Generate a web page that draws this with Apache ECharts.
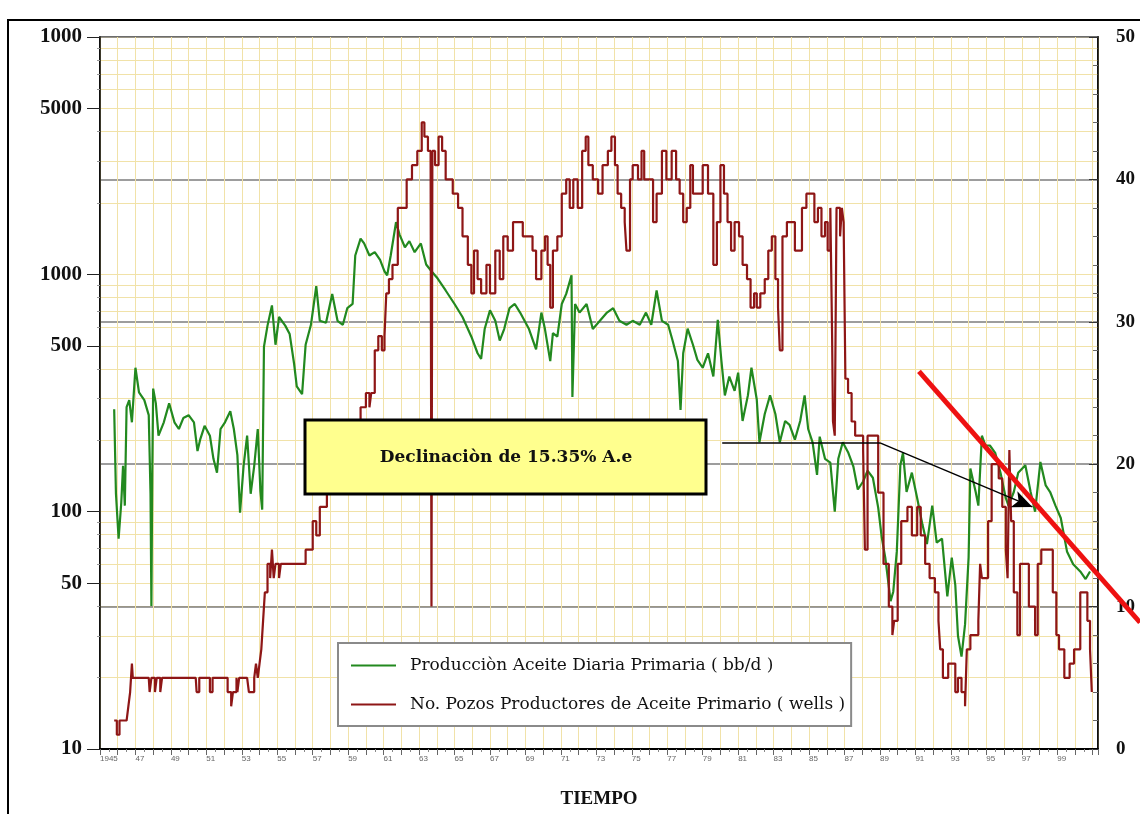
<!DOCTYPE html>
<html>
<head>
<meta charset="utf-8">
<title>Producción primaria</title>
<script src="https://cdn.jsdelivr.net/npm/echarts@6/dist/echarts.min.js"></script>
<style>
  html, body { margin: 0; padding: 0; background: #fff; }
  #chart { width: 1140px; height: 814px; }
</style>
</head>
<body>
<div id="chart"></div>
<script>
/* -------------------------------------------  Datos  ------------------------------------------- */
// Producción de aceite (bb/d), eje izquierdo logarítmico
const prodYears = [
  1945.8, 1945.9, 1946.05, 1946.2, 1946.3, 1946.4, 1946.5, 1946.65, 1946.8, 1947.0,
  1947.2, 1947.5, 1947.75, 1947.85, 1947.9, 1947.95, 1948.0, 1948.15, 1948.3, 1948.6,
  1948.9, 1949.2, 1949.45, 1949.7, 1950.0, 1950.3, 1950.5, 1950.65, 1950.9, 1951.2,
  1951.4, 1951.6, 1951.8, 1952.05, 1952.35, 1952.55, 1952.75, 1952.9, 1953.1, 1953.3,
  1953.5, 1953.7, 1953.9, 1954.05, 1954.15, 1954.25, 1954.45, 1954.7, 1954.9, 1955.1,
  1955.45, 1955.7, 1955.95, 1956.1, 1956.4, 1956.6, 1956.9, 1957.2, 1957.4, 1957.75,
  1958.1, 1958.4, 1958.7, 1958.95, 1959.25, 1959.4, 1959.7, 1959.9, 1960.2, 1960.5,
  1960.8, 1961.05, 1961.2, 1961.4, 1961.7, 1961.9, 1962.2, 1962.45, 1962.75, 1963.1,
  1963.4, 1963.7, 1964.05, 1964.5, 1965.0, 1965.45, 1965.95, 1966.3, 1966.5, 1966.7,
  1967.0, 1967.3, 1967.55, 1967.8, 1968.1, 1968.4, 1968.7, 1968.95, 1969.2, 1969.6,
  1969.9, 1970.1, 1970.4, 1970.55, 1970.8, 1971.05, 1971.3, 1971.6, 1971.65, 1971.8,
  1972.05, 1972.45, 1972.8, 1973.2, 1973.6, 1973.95, 1974.3, 1974.7, 1975.05, 1975.45,
  1975.8, 1976.1, 1976.4, 1976.7, 1977.05, 1977.3, 1977.6, 1977.75, 1977.9, 1978.15,
  1978.45, 1978.7, 1979.0, 1979.3, 1979.6, 1979.85, 1980.05, 1980.25, 1980.5, 1980.8,
  1981.0, 1981.25, 1981.55, 1981.75, 1982.05, 1982.2, 1982.5, 1982.8, 1983.1, 1983.35,
  1983.65, 1983.9, 1984.2, 1984.5, 1984.75, 1984.95, 1985.2, 1985.45, 1985.6, 1985.9,
  1986.2, 1986.45, 1986.65, 1986.9, 1987.2, 1987.5, 1987.75, 1988.05, 1988.3, 1988.6,
  1988.9, 1989.1, 1989.3, 1989.6, 1989.75, 1989.95, 1990.15, 1990.3, 1990.5, 1990.8,
  1991.1, 1991.4, 1991.65, 1991.95, 1992.2, 1992.5, 1992.8, 1993.05, 1993.25, 1993.4,
  1993.6, 1993.8, 1994.0, 1994.1, 1994.4, 1994.55, 1994.75, 1994.95, 1995.2, 1995.5,
  1995.8, 1996.1, 1996.25, 1996.55, 1996.8, 1997.2, 1997.5, 1997.75, 1998.05, 1998.35,
  1998.6, 1998.9, 1999.2, 1999.55, 1999.9, 2000.3, 2000.6, 2000.85
];
const prodValues = [
  270, 119, 77, 109, 156, 106, 276, 295, 238, 404,
  318, 295, 255, 119, 40, 150, 330, 286, 209, 238,
  286, 238, 223, 248, 255, 238, 180, 201, 230, 209,
  167, 146, 223, 238, 265, 223, 173, 99, 156, 209,
  119, 156, 223, 122, 102, 496, 608, 740, 505, 661,
  608, 560, 420, 337, 313, 505, 613, 891, 637, 625,
  827, 637, 613, 720, 750, 1200, 1415, 1350, 1200, 1240,
  1150, 1030, 990, 1200, 1660, 1470, 1300, 1380, 1240, 1350,
  1100, 1030, 960, 855, 750, 661, 546, 465, 440, 588,
  705, 637, 526, 588, 720, 750, 690, 637, 588, 483,
  690, 588, 431, 565, 546, 750, 827, 990, 304, 750,
  690, 750, 588, 637, 690, 720, 637, 613, 637, 613,
  690, 613, 855, 637, 613, 526, 431, 268, 465, 590,
  505, 436, 404, 465, 371, 643, 436, 309, 371, 323,
  385, 241, 309, 404, 297, 196, 258, 309, 258, 196,
  241, 232, 201, 241, 309, 223, 196, 143, 207, 167,
  161, 100, 167, 196, 178, 155, 124, 134, 149, 139,
  104, 78, 64, 42, 46, 68, 157, 177, 121, 146,
  114, 88, 73, 106, 74, 77, 44, 64, 49, 30,
  24.5, 33.5, 64, 152, 121, 106, 209, 190, 190, 177,
  146, 114, 106, 121, 146, 157, 121, 100, 162, 129,
  121, 106, 94, 68, 60, 56, 52, 56
];

// Número de pozos productores, eje derecho
const wellYears = [
  1945.8, 1945.95, 1946.1, 1946.5, 1946.6, 1946.7, 1946.8, 1946.85, 1947.75, 1947.8,
  1947.9, 1948.1, 1948.2, 1948.4, 1948.5, 1950.4, 1950.45, 1950.6, 1951.2, 1951.35,
  1952.2, 1952.4, 1952.5, 1952.7, 1952.75, 1952.85, 1953.3, 1953.4, 1953.7, 1953.8,
  1953.9, 1954.0, 1954.1, 1954.2, 1954.3, 1954.45, 1954.6, 1954.7, 1954.8, 1954.9,
  1955.1, 1955.2, 1956.4, 1956.6, 1957.0, 1957.2, 1957.4, 1957.8, 1958.0, 1958.3,
  1958.5, 1959.1, 1959.7, 1960.0, 1960.2, 1960.3, 1960.5, 1960.7, 1960.9, 1961.05,
  1961.15, 1961.3, 1961.5, 1961.8, 1962.3, 1962.6, 1962.9, 1963.15, 1963.3, 1963.5,
  1963.65, 1963.7, 1963.75, 1963.9, 1964.1, 1964.3, 1964.5, 1964.9, 1965.2, 1965.45,
  1965.75, 1965.95, 1966.1, 1966.3, 1966.5, 1966.8, 1967.0, 1967.3, 1967.55, 1967.75,
  1968.0, 1968.3, 1968.85, 1969.4, 1969.6, 1969.9, 1970.1, 1970.25, 1970.4, 1970.55,
  1970.8, 1971.05, 1971.3, 1971.5, 1971.7, 1971.95, 1972.2, 1972.4, 1972.55, 1972.8,
  1973.1, 1973.35, 1973.65, 1973.85, 1974.05, 1974.2, 1974.4, 1974.6, 1974.7, 1974.9,
  1975.05, 1975.35, 1975.55, 1975.7, 1976.2, 1976.4, 1976.7, 1976.95, 1977.25, 1977.5,
  1977.7, 1977.9, 1978.1, 1978.3, 1978.45, 1979.0, 1979.3, 1979.6, 1979.8, 1980.0,
  1980.2, 1980.4, 1980.6, 1980.8, 1981.05, 1981.25, 1981.5, 1981.7, 1981.9, 1982.05,
  1982.25, 1982.5, 1982.7, 1982.9, 1983.1, 1983.25, 1983.35, 1983.5, 1983.75, 1984.2,
  1984.6, 1984.85, 1985.3, 1985.5, 1985.7, 1985.9, 1986.05, 1986.2, 1986.3, 1986.35,
  1986.45, 1986.55, 1986.75, 1986.85, 1986.95, 1987.05, 1987.2, 1987.4, 1987.6, 1988.05,
  1988.15, 1988.3, 1988.9, 1989.2, 1989.5, 1989.7, 1989.8, 1990.0, 1990.2, 1990.55,
  1990.8, 1991.1, 1991.3, 1991.55, 1991.8, 1992.1, 1992.3, 1992.4, 1992.55, 1992.85,
  1993.25, 1993.4, 1993.6, 1993.8, 1993.9, 1994.1, 1994.55, 1994.65, 1994.75, 1995.1,
  1995.3, 1995.7, 1995.9, 1996.1, 1996.2, 1996.3, 1996.4, 1996.55, 1996.75, 1996.9,
  1997.4, 1997.75, 1997.9, 1998.1, 1998.75, 1998.95, 1999.1, 1999.4, 1999.7, 1999.95,
  2000.3, 2000.7, 2000.85, 2000.95
];
const wellValues = [
  2, 1, 2, 2, 3, 4, 6, 5, 5, 4,
  5, 4, 5, 4, 5, 5, 4, 5, 4, 5,
  4, 3, 4, 5, 4, 5, 5, 4, 5, 6,
  5, 6, 7, 9, 11, 13, 12, 14, 12, 13,
  12, 13, 13, 14, 16, 15, 17, 18, 19, 20,
  21, 23, 24, 25, 24, 25, 28, 29, 28, 29,
  32, 33, 34, 38, 40, 41, 42, 44, 43, 42,
  42, 10, 42, 41, 43, 42, 40, 39, 38, 36,
  34, 32, 35, 33, 32, 34, 32, 35, 33, 36,
  35, 37, 36, 35, 33, 35, 36, 34, 31, 35,
  36, 39, 40, 38, 40, 38, 42, 43, 41, 40,
  39, 41, 42, 43, 41, 39, 38, 37, 35, 40,
  41, 40, 42, 40, 37, 39, 42, 40, 42, 40,
  39, 37, 38, 41, 39, 41, 39, 34, 37, 41,
  39, 37, 35, 37, 36, 34, 33, 31, 32, 31,
  32, 33, 35, 36, 33, 31, 28, 36, 37, 35,
  38, 39, 37, 38, 36, 37, 35, 38, 29, 23,
  22, 38, 36, 38, 37, 26, 25, 23, 22, 21,
  14, 22, 18, 13, 10, 8, 9, 13, 16, 17,
  15, 17, 15, 13, 12, 11, 9, 7, 5, 6,
  4, 5, 4, 3, 7, 8, 9, 13, 12, 16,
  20, 19, 17, 14, 12, 21, 16, 11, 8, 13,
  10, 8, 13, 14, 11, 8, 7, 5, 6, 7,
  11, 9, 7, 4
];

// Recta de declinación (roja), en unidades del eje izquierdo
const trendYears = [1991.2, 2001.0];
const trendValues = [390, 57.5];

// Marcas del eje logarítmico
const logLabelValues = [10, 50, 100, 500, 1000, 5000, 10000];
const logGridValues = [
  10, 20, 30, 40, 50, 60, 70, 80, 90,
  100, 200, 300, 400, 500, 600, 700, 800, 900,
  1000, 2000, 3000, 4000, 5000, 6000, 7000, 8000, 9000, 10000
];

const PROD_NAME = 'Producciòn Aceite Diaria Primaria ( bb/d )';
const WELL_NAME = 'No. Pozos Productores de Aceite Primario ( wells )';

const SERIF = '"Liberation Serif", "Times New Roman", serif';
const WIDE_SERIF = '"DejaVu Serif", "Liberation Serif", serif';
const GRID_YELLOW = '#f1e2a8';

function zip(xs, ys) {
  return xs.map((x, i) => [x, ys[i]]);
}

/* -------------------------------------------  Gráfica  ------------------------------------------- */
const myChart = echarts.init(document.getElementById('chart'), null, { renderer: 'canvas' });

const option = {
  animation: false,
  backgroundColor: '#fff',
  grid: {
    left: 100, right: 42, top: 37, bottom: 58,
    show: true, borderColor: '#000', borderWidth: 1.5, backgroundColor: 'transparent'
  },
  legend: {
    data: [PROD_NAME, WELL_NAME],
    orient: 'vertical',
    left: 338, top: 643,
    padding: [14, 6, 13, 13],
    itemGap: 22,
    itemWidth: 45, itemHeight: 2,
    icon: 'rect',
    backgroundColor: '#fff',
    borderColor: '#8a8a8a', borderWidth: 2,
    textStyle: { fontFamily: WIDE_SERIF, fontSize: 17, color: '#111', padding: [0, 0, 0, 9] }
  },
  xAxis: {
    type: 'value',
    min: 1945, max: 2001.3, interval: 1,
    name: 'TIEMPO', nameLocation: 'middle', nameGap: 41,
    nameTextStyle: { fontFamily: SERIF, fontSize: 19, fontWeight: 'bold', color: '#111' },
    axisLine: { lineStyle: { color: '#000', width: 2 } },
    axisTick: { length: 6, lineStyle: { color: '#666' } },
    minorTick: { show: true, splitNumber: 2, length: 3, lineStyle: { color: '#888' } },
    axisLabel: {
      fontSize: 8, color: '#666', align: 'left', margin: 6,
      formatter: (v) => {
        if (!Number.isInteger(v) || v % 2 !== 1 || v > 1999) return '';
        return v === 1945 ? '1945' : String(v).slice(2);
      }
    },
    splitLine: { show: true, lineStyle: { color: GRID_YELLOW, width: 1 } }
  },
  yAxis: [
    {
      // eje log: líneas de rejilla amarillas en cada subdivisión
      type: 'log', logBase: 10, min: 10, max: 10000, position: 'left',
      axisLine: { show: true, lineStyle: { color: '#000', width: 1.5 } },
      axisTick: { show: true, customValues: logGridValues, length: 3, lineStyle: { color: '#999' } },
      axisLabel: { show: false },
      splitLine: { show: true, lineStyle: { color: GRID_YELLOW, width: 1 } }
    },
    {
      type: 'value', min: 0, max: 50, interval: 10, position: 'right',
      axisLine: { show: true, lineStyle: { color: '#000', width: 1.5 } },
      axisTick: { show: true, inside: true, length: 9, lineStyle: { color: '#333' } },
      minorTick: { show: true, splitNumber: 5, length: 5, lineStyle: { color: '#666' } },
      axisLabel: { fontFamily: SERIF, fontSize: 19, fontWeight: 'bold', color: '#111', margin: 18 },
      splitLine: { show: true, lineStyle: { color: '#7c7c7c', width: 1.5 } }
    },
    {
      // eje log con etiquetas 10, 50, 100, ...
      type: 'log', logBase: 10, min: 10, max: 10000, position: 'left',
      axisLine: { show: false },
      axisTick: { show: true, customValues: logLabelValues, length: 13, lineStyle: { color: '#222' } },
      axisLabel: {
        customValues: logLabelValues, margin: 18,
        fontFamily: SERIF, fontSize: 21, fontWeight: 'bold', color: '#111',
        formatter: (v) => (v === 10000 ? '1000' : String(v))
      },
      splitLine: { show: false }
    }
  ],
  series: [
    {
      name: PROD_NAME,
      type: 'line',
      yAxisIndex: 0,
      data: zip(prodYears, prodValues),
      symbol: 'none',
      color: '#22891f',
      lineStyle: { color: '#22891f', width: 2.2 },
      z: 3
    },
    {
      name: WELL_NAME,
      type: 'line',
      yAxisIndex: 1,
      step: 'end',
      data: zip(wellYears, wellValues),
      symbol: 'none',
      color: '#8e1616',
      lineStyle: { color: '#8e1616', width: 2.2 },
      z: 4,
      markLine: {
        silent: true,
        animation: false,
        symbol: ['none', 'none'],
        label: { show: false },
        lineStyle: { color: '#000', width: 1.5, type: 'solid' },
        emphasis: { disabled: true },
        data: [
          [{ coord: [1980.1, 21.5] }, { coord: [1989.0, 21.5] }],
          [{ coord: [1989.0, 21.5] }, { coord: [1997.6, 17.0], symbol: 'arrow', symbolSize: [13, 20] }]
        ]
      }
    }
  ],
  graphic: [
    {
      type: 'rect', z: 100,
      shape: { x: 305, y: 420, width: 401, height: 74 },
      style: { fill: '#ffff8e', stroke: '#000', lineWidth: 3 }
    },
    {
      type: 'text', z: 101, x: 506, y: 458,
      style: {
        text: 'Declinaciòn de 15.35% A.e',
        fontFamily: WIDE_SERIF, fontSize: 17, fontWeight: 'bold', fill: '#111',
        align: 'center', verticalAlign: 'middle'
      }
    },
    {
      type: 'rect', z: 100, silent: true,
      shape: { x: 8, y: 20, width: 1200, height: 900 },
      style: { fill: 'transparent', stroke: '#000', lineWidth: 2 }
    }
  ]
};

myChart.setOption(option);

/* -------------------------------------------  Recta de declinación  ------------------------------------------- */
// se prolonga fuera del área de trazado hasta el borde derecho, como en el original
const p0 = myChart.convertToPixel({ xAxisIndex: 0, yAxisIndex: 0 }, [trendYears[0], trendValues[0]]);
const p1 = myChart.convertToPixel({ xAxisIndex: 0, yAxisIndex: 0 }, [trendYears[1], trendValues[1]]);
const edgeX = myChart.getWidth();
const edgeY = p0[1] + (p1[1] - p0[1]) * (edgeX - p0[0]) / (p1[0] - p0[0]);
myChart.setOption({
  graphic: [
    {
      id: 'trend', type: 'line', z: 110, silent: true,
      shape: { x1: p0[0], y1: p0[1], x2: edgeX, y2: edgeY },
      style: { stroke: '#ee1111', lineWidth: 5 }
    }
  ]
});
</script>
